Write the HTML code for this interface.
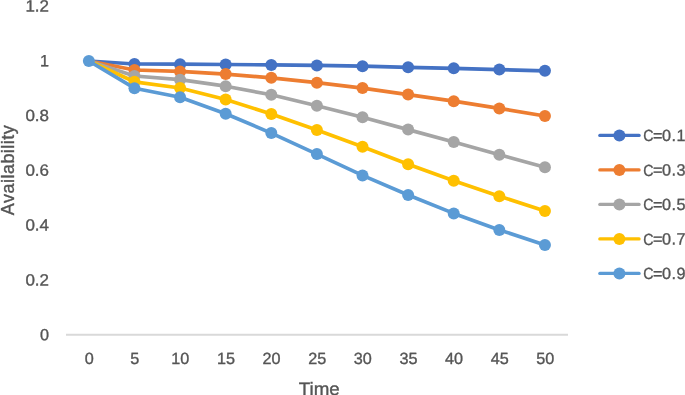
<!DOCTYPE html>
<html><head><meta charset="utf-8"><title>Availability vs Time</title>
<style>
html,body{margin:0;padding:0;background:#fff;}
body{width:685px;height:395px;overflow:hidden;}
svg{display:block;}
text{font-family:"Liberation Sans",sans-serif;fill:#555;stroke:#555;stroke-width:0.35px;}
.lab{font-size:16.2px;}
.ttl{font-size:18px;}
</style></head><body>
<svg width="685" height="395" viewBox="0 0 685 395">
<rect width="685" height="395" fill="#fff"/>
<line x1="66" y1="334.8" x2="568" y2="334.8" stroke="#D9D9D9" stroke-width="2"/>
<polyline points="88.85,61.0 134.46,64 180.07,64.2 225.68,64.5 271.29,64.9 316.9,65.4 362.51,66.2 408.12,67.3 453.73,68.3 499.34,69.6 544.95,70.8" fill="none" stroke="#4472C4" stroke-width="3.7" stroke-linejoin="round" stroke-linecap="round"/>
<circle cx="134.46" cy="64" r="6.0" fill="#4472C4"/><circle cx="180.07" cy="64.2" r="6.0" fill="#4472C4"/><circle cx="225.68" cy="64.5" r="6.0" fill="#4472C4"/><circle cx="271.29" cy="64.9" r="6.0" fill="#4472C4"/><circle cx="316.9" cy="65.4" r="6.0" fill="#4472C4"/><circle cx="362.51" cy="66.2" r="6.0" fill="#4472C4"/><circle cx="408.12" cy="67.3" r="6.0" fill="#4472C4"/><circle cx="453.73" cy="68.3" r="6.0" fill="#4472C4"/><circle cx="499.34" cy="69.6" r="6.0" fill="#4472C4"/><circle cx="544.95" cy="70.8" r="6.0" fill="#4472C4"/>
<polyline points="88.85,61.0 134.46,70 180.07,71.4 225.68,74.1 271.29,77.8 316.9,82.7 362.51,88.1 408.12,94.6 453.73,101.2 499.34,108.4 544.95,116" fill="none" stroke="#ED7D31" stroke-width="3.7" stroke-linejoin="round" stroke-linecap="round"/>
<circle cx="134.46" cy="70" r="6.0" fill="#ED7D31"/><circle cx="180.07" cy="71.4" r="6.0" fill="#ED7D31"/><circle cx="225.68" cy="74.1" r="6.0" fill="#ED7D31"/><circle cx="271.29" cy="77.8" r="6.0" fill="#ED7D31"/><circle cx="316.9" cy="82.7" r="6.0" fill="#ED7D31"/><circle cx="362.51" cy="88.1" r="6.0" fill="#ED7D31"/><circle cx="408.12" cy="94.6" r="6.0" fill="#ED7D31"/><circle cx="453.73" cy="101.2" r="6.0" fill="#ED7D31"/><circle cx="499.34" cy="108.4" r="6.0" fill="#ED7D31"/><circle cx="544.95" cy="116" r="6.0" fill="#ED7D31"/>
<polyline points="88.85,61.0 134.46,76 180.07,79.7 225.68,86.2 271.29,94.8 316.9,105.8 362.51,117.3 408.12,129.6 453.73,142 499.34,154.8 544.95,167.2" fill="none" stroke="#A5A5A5" stroke-width="3.7" stroke-linejoin="round" stroke-linecap="round"/>
<circle cx="134.46" cy="76" r="6.0" fill="#A5A5A5"/><circle cx="180.07" cy="79.7" r="6.0" fill="#A5A5A5"/><circle cx="225.68" cy="86.2" r="6.0" fill="#A5A5A5"/><circle cx="271.29" cy="94.8" r="6.0" fill="#A5A5A5"/><circle cx="316.9" cy="105.8" r="6.0" fill="#A5A5A5"/><circle cx="362.51" cy="117.3" r="6.0" fill="#A5A5A5"/><circle cx="408.12" cy="129.6" r="6.0" fill="#A5A5A5"/><circle cx="453.73" cy="142" r="6.0" fill="#A5A5A5"/><circle cx="499.34" cy="154.8" r="6.0" fill="#A5A5A5"/><circle cx="544.95" cy="167.2" r="6.0" fill="#A5A5A5"/>
<polyline points="88.85,61.0 134.46,81.8 180.07,88 225.68,99.5 271.29,113.9 316.9,130.1 362.51,146.7 408.12,164.2 453.73,180.8 499.34,196.2 544.95,211" fill="none" stroke="#FFC000" stroke-width="3.7" stroke-linejoin="round" stroke-linecap="round"/>
<circle cx="134.46" cy="81.8" r="6.0" fill="#FFC000"/><circle cx="180.07" cy="88" r="6.0" fill="#FFC000"/><circle cx="225.68" cy="99.5" r="6.0" fill="#FFC000"/><circle cx="271.29" cy="113.9" r="6.0" fill="#FFC000"/><circle cx="316.9" cy="130.1" r="6.0" fill="#FFC000"/><circle cx="362.51" cy="146.7" r="6.0" fill="#FFC000"/><circle cx="408.12" cy="164.2" r="6.0" fill="#FFC000"/><circle cx="453.73" cy="180.8" r="6.0" fill="#FFC000"/><circle cx="499.34" cy="196.2" r="6.0" fill="#FFC000"/><circle cx="544.95" cy="211" r="6.0" fill="#FFC000"/>
<polyline points="88.85,61.0 134.46,88.2 180.07,97.2 225.68,113.7 271.29,133.1 316.9,154.1 362.51,175.4 408.12,195 453.73,213.4 499.34,229.9 544.95,244.9" fill="none" stroke="#5B9BD5" stroke-width="3.7" stroke-linejoin="round" stroke-linecap="round"/>
<circle cx="88.85" cy="61.0" r="6.0" fill="#5B9BD5"/><circle cx="134.46" cy="88.2" r="6.0" fill="#5B9BD5"/><circle cx="180.07" cy="97.2" r="6.0" fill="#5B9BD5"/><circle cx="225.68" cy="113.7" r="6.0" fill="#5B9BD5"/><circle cx="271.29" cy="133.1" r="6.0" fill="#5B9BD5"/><circle cx="316.9" cy="154.1" r="6.0" fill="#5B9BD5"/><circle cx="362.51" cy="175.4" r="6.0" fill="#5B9BD5"/><circle cx="408.12" cy="195" r="6.0" fill="#5B9BD5"/><circle cx="453.73" cy="213.4" r="6.0" fill="#5B9BD5"/><circle cx="499.34" cy="229.9" r="6.0" fill="#5B9BD5"/><circle cx="544.95" cy="244.9" r="6.0" fill="#5B9BD5"/>
<text class="lab" transform="translate(49.0,11.40) rotate(0.03)" text-anchor="end" textLength="23.6" lengthAdjust="spacingAndGlyphs">1.2</text>
<text class="lab" transform="translate(49.0,66.20) rotate(0.03)" text-anchor="end">1</text>
<text class="lab" transform="translate(49.0,121.00) rotate(0.03)" text-anchor="end" textLength="23.6" lengthAdjust="spacingAndGlyphs">0.8</text>
<text class="lab" transform="translate(49.0,175.80) rotate(0.03)" text-anchor="end" textLength="23.6" lengthAdjust="spacingAndGlyphs">0.6</text>
<text class="lab" transform="translate(49.0,230.60) rotate(0.03)" text-anchor="end" textLength="23.6" lengthAdjust="spacingAndGlyphs">0.4</text>
<text class="lab" transform="translate(49.0,285.40) rotate(0.03)" text-anchor="end" textLength="23.6" lengthAdjust="spacingAndGlyphs">0.2</text>
<text class="lab" transform="translate(49.0,340.20) rotate(0.03)" text-anchor="end">0</text>
<text class="lab" transform="translate(89.15,364.0) rotate(0.03)" text-anchor="middle">0</text>
<text class="lab" transform="translate(134.76,364.0) rotate(0.03)" text-anchor="middle">5</text>
<text class="lab" transform="translate(180.37,364.0) rotate(0.03)" text-anchor="middle">10</text>
<text class="lab" transform="translate(225.98,364.0) rotate(0.03)" text-anchor="middle">15</text>
<text class="lab" transform="translate(271.59,364.0) rotate(0.03)" text-anchor="middle">20</text>
<text class="lab" transform="translate(317.20,364.0) rotate(0.03)" text-anchor="middle">25</text>
<text class="lab" transform="translate(362.81,364.0) rotate(0.03)" text-anchor="middle">30</text>
<text class="lab" transform="translate(408.42,364.0) rotate(0.03)" text-anchor="middle">35</text>
<text class="lab" transform="translate(454.03,364.0) rotate(0.03)" text-anchor="middle">40</text>
<text class="lab" transform="translate(499.64,364.0) rotate(0.03)" text-anchor="middle">45</text>
<text class="lab" transform="translate(545.25,364.0) rotate(0.03)" text-anchor="middle">50</text>
<text class="ttl" transform="translate(319.2,394.9) rotate(0.03)" text-anchor="middle" textLength="41" lengthAdjust="spacingAndGlyphs">Time</text>
<text class="ttl" transform="translate(14.2,170.2) rotate(-90)" text-anchor="middle" textLength="90" lengthAdjust="spacing">Availability</text>
<line x1="599.8" y1="135.4" x2="639.1" y2="135.4" stroke="#4472C4" stroke-width="3.2" stroke-linecap="round"/><circle cx="619.4" cy="135.4" r="6" fill="#4472C4"/>
<text class="lab" transform="translate(643.2,141.10) rotate(0.03)" ><tspan textLength="10.3" lengthAdjust="spacingAndGlyphs">C</tspan><tspan x="9.9 18.9 28.4 33.4">=0.1</tspan></text>
<line x1="599.8" y1="169.9" x2="639.1" y2="169.9" stroke="#ED7D31" stroke-width="3.2" stroke-linecap="round"/><circle cx="619.4" cy="169.9" r="6" fill="#ED7D31"/>
<text class="lab" transform="translate(643.2,175.60) rotate(0.03)" ><tspan textLength="10.3" lengthAdjust="spacingAndGlyphs">C</tspan><tspan x="9.9 18.9 28.4 33.4">=0.3</tspan></text>
<line x1="599.8" y1="204.4" x2="639.1" y2="204.4" stroke="#A5A5A5" stroke-width="3.2" stroke-linecap="round"/><circle cx="619.4" cy="204.4" r="6" fill="#A5A5A5"/>
<text class="lab" transform="translate(643.2,210.10) rotate(0.03)" ><tspan textLength="10.3" lengthAdjust="spacingAndGlyphs">C</tspan><tspan x="9.9 18.9 28.4 33.4">=0.5</tspan></text>
<line x1="599.8" y1="238.9" x2="639.1" y2="238.9" stroke="#FFC000" stroke-width="3.2" stroke-linecap="round"/><circle cx="619.4" cy="238.9" r="6" fill="#FFC000"/>
<text class="lab" transform="translate(643.2,244.60) rotate(0.03)" ><tspan textLength="10.3" lengthAdjust="spacingAndGlyphs">C</tspan><tspan x="9.9 18.9 28.4 33.4">=0.7</tspan></text>
<line x1="599.8" y1="273.4" x2="639.1" y2="273.4" stroke="#5B9BD5" stroke-width="3.2" stroke-linecap="round"/><circle cx="619.4" cy="273.4" r="6" fill="#5B9BD5"/>
<text class="lab" transform="translate(643.2,279.10) rotate(0.03)" ><tspan textLength="10.3" lengthAdjust="spacingAndGlyphs">C</tspan><tspan x="9.9 18.9 28.4 33.4">=0.9</tspan></text>
</svg></body></html>
